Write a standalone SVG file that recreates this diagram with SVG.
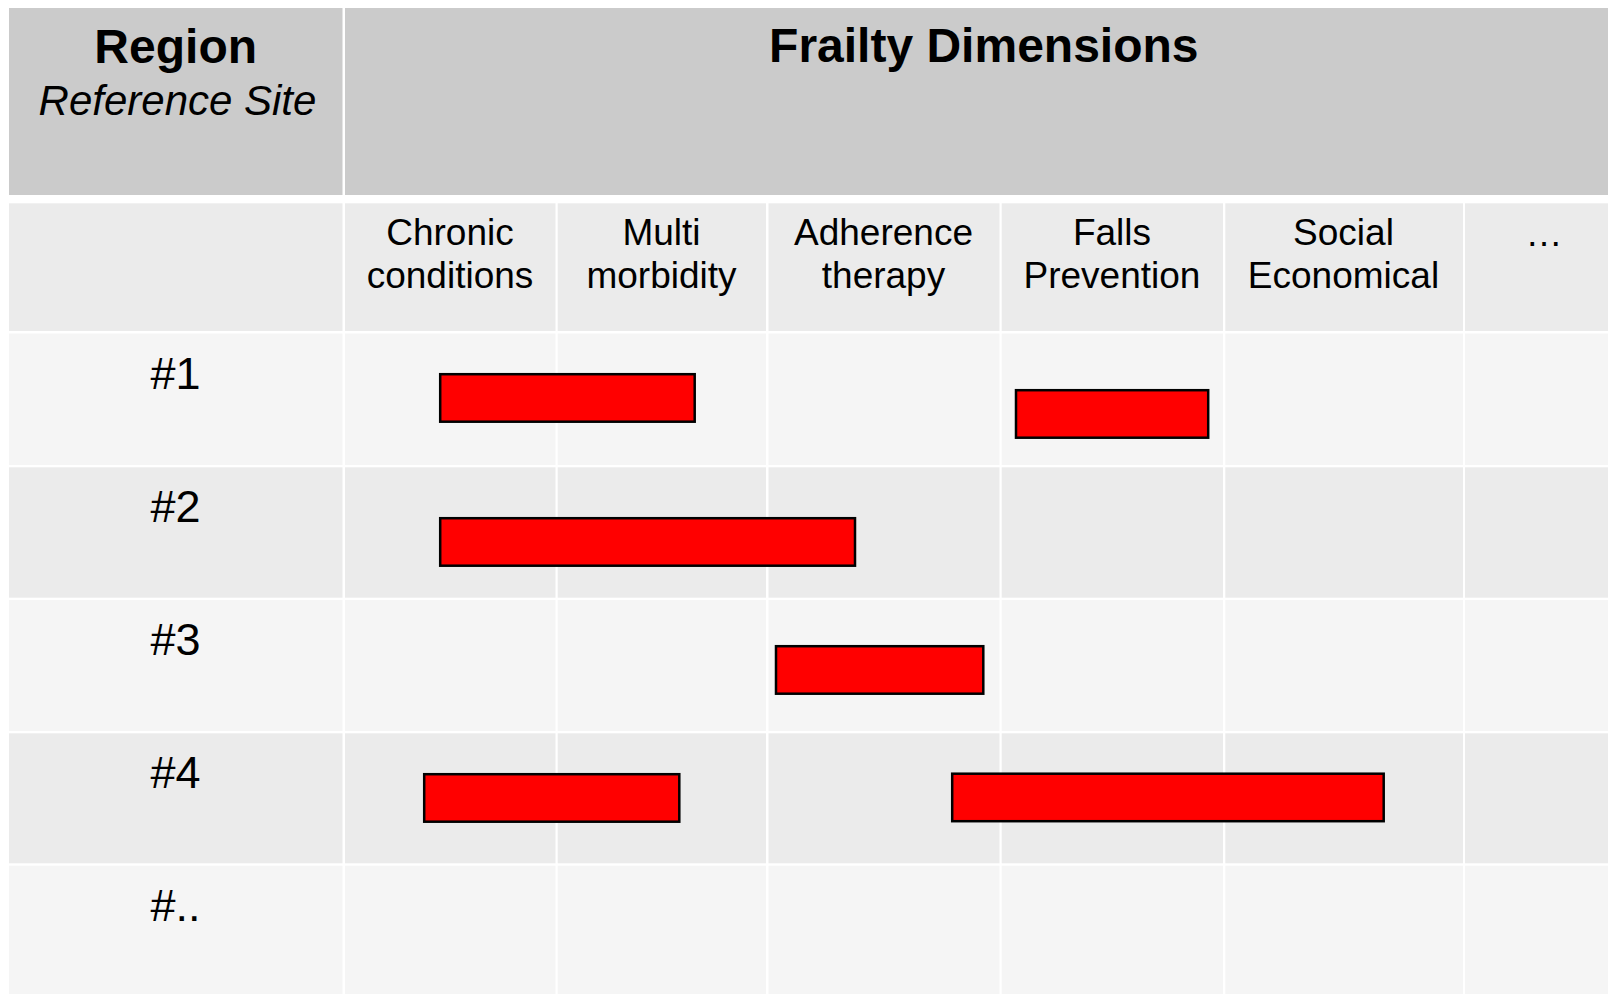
<svg xmlns="http://www.w3.org/2000/svg" width="1608" height="994" viewBox="0 0 1608 994">
<style>
text{font-family:"Liberation Sans",Arial,sans-serif;fill:#000;text-anchor:middle}
.title{font-size:48px;font-weight:bold}
.sub{font-size:42px;font-style:italic}
.col{font-size:37px}
.row{font-size:45px}
.hd{fill:#CBCBCB}
.sh{fill:#EBEBEB}
.la{fill:#F5F5F5}
.da{fill:#EBEBEB}
.bar{fill:#FF0000;stroke:#000;stroke-width:2.5}
</style>
<rect x="0" y="0" width="1608" height="994" fill="#FFFFFF"/>
<g id="header">
  <g id="h-region">
    <rect class="hd" x="9" y="8" width="333.5" height="187"/>
    <text class="title" x="175.7" y="62.5">Region</text>
    <text class="sub" x="177.5" y="115">Reference Site</text>
  </g>
  <g id="h-frailty">
    <rect class="hd" x="345" y="8" width="1263" height="187"/>
    <text class="title" x="983.8" y="62.3">Frailty Dimensions</text>
  </g>
</g>
<g id="subheader">
  <rect class="sh" x="9" y="203.3" width="333.5" height="127.7"/>
  <g id="c-chronic"><rect class="sh" x="345" y="203.3" width="210.5" height="127.7"/><text class="col" x="450" y="245">Chronic</text><text class="col" x="450" y="288.3">conditions</text></g>
  <g id="c-multi"><rect class="sh" x="557.7" y="203.3" width="208.3" height="127.7"/><text class="col" x="661.5" y="245">Multi</text><text class="col" x="661.5" y="288.3">morbidity</text></g>
  <g id="c-adherence"><rect class="sh" x="768.5" y="203.3" width="231" height="127.7"/><text class="col" x="883.5" y="245">Adherence</text><text class="col" x="883.5" y="288.3">therapy</text></g>
  <g id="c-falls"><rect class="sh" x="1001.7" y="203.3" width="221.3" height="127.7"/><text class="col" x="1112" y="245">Falls</text><text class="col" x="1112" y="288.3">Prevention</text></g>
  <g id="c-social"><rect class="sh" x="1225.3" y="203.3" width="237.7" height="127.7"/><text class="col" x="1343.5" y="245">Social</text><text class="col" x="1343.5" y="288.3">Economical</text></g>
  <g id="c-more"><rect class="sh" x="1465" y="203.3" width="143" height="127.7"/><text class="col" x="1544" y="246">…</text></g>
</g>
<g id="grid">
  <g class="la">
    <rect x="9" y="333.5" width="333.5" height="131.5"/><rect x="345" y="333.5" width="210.5" height="131.5"/><rect x="557.7" y="333.5" width="208.3" height="131.5"/><rect x="768.5" y="333.5" width="231" height="131.5"/><rect x="1001.7" y="333.5" width="221.3" height="131.5"/><rect x="1225.3" y="333.5" width="237.7" height="131.5"/><rect x="1465" y="333.5" width="143" height="131.5"/>
    <rect x="9" y="600" width="333.5" height="131"/><rect x="345" y="600" width="210.5" height="131"/><rect x="557.7" y="600" width="208.3" height="131"/><rect x="768.5" y="600" width="231" height="131"/><rect x="1001.7" y="600" width="221.3" height="131"/><rect x="1225.3" y="600" width="237.7" height="131"/><rect x="1465" y="600" width="143" height="131"/>
    <rect x="9" y="865.7" width="333.5" height="128.3"/><rect x="345" y="865.7" width="210.5" height="128.3"/><rect x="557.7" y="865.7" width="208.3" height="128.3"/><rect x="768.5" y="865.7" width="231" height="128.3"/><rect x="1001.7" y="865.7" width="221.3" height="128.3"/><rect x="1225.3" y="865.7" width="237.7" height="128.3"/><rect x="1465" y="865.7" width="143" height="128.3"/>
  </g>
  <g class="da">
    <rect x="9" y="467.3" width="333.5" height="130.4"/><rect x="345" y="467.3" width="210.5" height="130.4"/><rect x="557.7" y="467.3" width="208.3" height="130.4"/><rect x="768.5" y="467.3" width="231" height="130.4"/><rect x="1001.7" y="467.3" width="221.3" height="130.4"/><rect x="1225.3" y="467.3" width="237.7" height="130.4"/><rect x="1465" y="467.3" width="143" height="130.4"/>
    <rect x="9" y="733.3" width="333.5" height="130"/><rect x="345" y="733.3" width="210.5" height="130"/><rect x="557.7" y="733.3" width="208.3" height="130"/><rect x="768.5" y="733.3" width="231" height="130"/><rect x="1001.7" y="733.3" width="221.3" height="130"/><rect x="1225.3" y="733.3" width="237.7" height="130"/><rect x="1465" y="733.3" width="143" height="130"/>
  </g>
</g>
<g id="row-labels">
  <g id="r1"><text class="row" x="175.5" y="389.3">#1</text></g>
  <g id="r2"><text class="row" x="175.5" y="521.7">#2</text></g>
  <g id="r3"><text class="row" x="175.5" y="655">#3</text></g>
  <g id="r4"><text class="row" x="175.5" y="788">#4</text></g>
  <g id="r5"><text class="row" x="175.5" y="921">#..</text></g>
</g>
<g id="bars">
  <g id="bar-1a"><rect class="bar" x="440.2" y="374.2" width="254.5" height="47.5"/></g>
  <g id="bar-1b"><rect class="bar" x="1016" y="390.2" width="192.2" height="47.5"/></g>
  <g id="bar-2"><rect class="bar" x="440.2" y="518.2" width="414.8" height="47.5"/></g>
  <g id="bar-3"><rect class="bar" x="776" y="646.2" width="207.3" height="47.5"/></g>
  <g id="bar-4a"><rect class="bar" x="424.2" y="774.2" width="255.1" height="47.5"/></g>
  <g id="bar-4b"><rect class="bar" x="952.2" y="773.7" width="431.5" height="47.5"/></g>
</g>
</svg>
